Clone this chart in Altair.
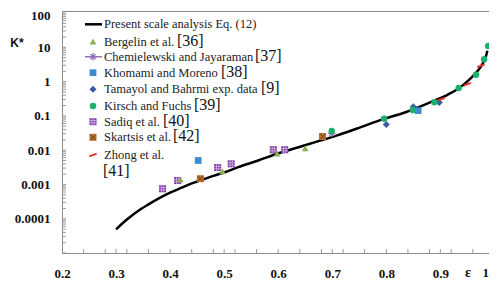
import altair as alt
import pandas as pd

# ---------------- data ----------------
curve_eps = [0.300, 0.320, 0.340, 0.360, 0.380, 0.400, 0.420, 0.440, 0.460, 0.480,
             0.500, 0.526, 0.563, 0.599, 0.636, 0.673, 0.709, 0.746, 0.797, 0.837,
             0.889, 0.914, 0.933, 0.953, 0.966, 0.978, 0.984, 0.987]
curve_k = [4.9e-5, 9.5e-5, 1.66e-4, 2.63e-4, 4.0e-4, 5.75e-4, 7.9e-4, 1.07e-3, 1.38e-3, 1.78e-3,
           2.24e-3, 3.2e-3, 5.0e-3, 8.0e-3, 0.012, 0.018, 0.027, 0.043, 0.083, 0.13,
           0.28, 0.42, 0.62, 1.13, 1.8, 3.3, 5.3, 8.0]

bergelin_eps = [0.419, 0.497, 0.598, 0.650]
bergelin_k = [1.4e-3, 2.4e-3, 8.0e-3, 0.0114]

chem_eps = [0.699]
chem_k = [0.031]

khomami_eps = [0.452, 0.859]
khomami_k = [5.0e-3, 0.142]

tamayol_eps = [0.800, 0.850, 0.898]
tamayol_k = [0.056, 0.186, 0.248]

kirsch_eps = [0.699, 0.796, 0.849, 0.889, 0.934, 0.966, 0.981, 0.9885]
kirsch_k = [0.036, 0.082, 0.148, 0.25, 0.65, 1.58, 4.5, 11.0]

sadiq_eps = [0.386, 0.414, 0.488, 0.513, 0.591, 0.612]
sadiq_k = [7.5e-4, 1.3e-3, 3.1e-3, 4.0e-3, 0.0103, 0.0103]

skartsis_eps = [0.456, 0.682]
skartsis_k = [1.47e-3, 0.025]

zhong_eps = [0.902, 0.950, 0.975]
zhong_k = [0.31, 0.84, 2.9]

x_label_values = [0.2, 0.3, 0.4, 0.5, 0.6, 0.7, 0.8, 0.9]
x_label_text = ["0.2", "0.3", "0.4", "0.5", "0.6", "0.7", "0.8", "0.9"]
x_last_label = "1"
x_minor_ticks = [0.24, 0.28, 0.3, 0.32, 0.36, 0.4, 0.44, 0.48, 0.5, 0.52, 0.56, 0.6,
                 0.64, 0.68, 0.7, 0.72, 0.76, 0.8, 0.84, 0.88, 0.9, 0.92, 0.96]
y_label_values = [0.0001, 0.001, 0.01, 0.1, 1, 10, 100]
y_label_text = ["0.0001", "0.001", "0.01", "0.1", "1", "10", "100"]
y_minor_ticks = [m * (10.0 ** e) for e in range(-5, 3) for m in range(1, 10)
                 if 1e-5 <= m * (10.0 ** e) <= 100]

legend_names = ["Present scale analysis Eq. (12)", "Bergelin et al.",
                "Chemielewski and Jayaraman", "Khomami and Moreno",
                "Tamayol and Bahrmi exp. data", "Kirsch and Fuchs",
                "Sadiq et al.", "Skartsis et al.", "Zhong et al."]
legend_refs = ["", "[36]", "[37]", "[38]", "[9]", "[39]", "[40]", "[42]", "[41]"]

# ---------------- layout / style ----------------
W, H = 427, 242
SERIF = "Times New Roman, Liberation Serif, DejaVu Serif, serif"
SANS = "Arial, Liberation Sans, sans-serif"
GRAY = "#8c8c8c"

def mapping_expr(values, labels):
    return ("[" + ",".join("'%s'" % t for t in labels) + "][indexof([" +
            ",".join(repr(v) for v in values) + "], datum.value)]")

xscale = alt.Scale(domain=[0.2, 0.99], nice=False, zero=False)
yscale = alt.Scale(type="log", domain=[1e-5, 115], nice=False)

xaxis = alt.Axis(values=x_label_values, labelExpr=mapping_expr(x_label_values, x_label_text),
                 ticks=False, tickSize=0, grid=False, title=None, domainColor=GRAY,
                 labelFont=SERIF, labelFontSize=13, labelFontWeight="bold", labelColor="#111",
                 labelPadding=14, labelFlush=False, labelOverlap=False)
yaxis = alt.Axis(values=y_label_values, labelExpr=mapping_expr(y_label_values, y_label_text),
                 ticks=False, tickSize=0, grid=False, title=None, domainColor=GRAY,
                 labelFont=SERIF, labelFontSize=13, labelFontWeight="bold", labelColor="#111",
                 labelPadding=12, labelFlush=False, labelOverlap=False,
                 labelOffset={"condition": {"test": "datum.value >= 100", "value": 2}, "value": 0})

X = alt.X("eps:Q", scale=xscale, axis=xaxis)
Y = alt.Y("k:Q", scale=yscale, axis=yaxis)

ASTER = "M-1,0H1M0,-1V1M-0.7,-0.7L0.7,0.7M-0.7,0.7L0.7,-0.7"
GRID = "M-1,-0.33H1M-1,0.33H1M-0.33,-1V1M0.33,-1V1"
XPATH = "M-0.75,-0.75L0.75,0.75M-0.75,0.75L0.75,-0.75"

styles = {
    "bergelin": [dict(shape="triangle-up", size=45, fill="#8CB050")],
    "chem": [dict(shape=ASTER, size=55, stroke="#8F72B8", sw=1.2)],
    "khomami": [dict(shape="square", size=45, fill="#3D8BD0")],
    "tamayol": [dict(shape="diamond", size=50, fill="#3B5BA5")],
    "kirsch": [dict(shape="circle", size=42, fill="#1DB06C")],
    "sadiq": [dict(shape="square", size=49, fill="#7B35A6"),
              dict(shape=GRID, size=49, stroke="#D9B9EA", sw=0.8)],
    "skartsis": [dict(shape="square", size=49, fill="#B4702F"),
                 dict(shape=XPATH, size=49, stroke="#6E3E12", sw=0.9)],
    "zhong": [dict(shape="stroke", size=60, stroke="#E8322B", sw=2, angle=340)],
}

def one():
    return alt.Chart(pd.DataFrame({"d": [0]}))

def point_layers(data, enc, key):
    out = []
    for s in styles[key]:
        if "fill" in s:
            kw = dict(shape=s["shape"], size=s["size"], filled=True, color=s["fill"],
                      opacity=1, strokeWidth=0)
        else:
            kw = dict(shape=s["shape"], size=s["size"], filled=False, color=s["stroke"],
                      opacity=1, strokeWidth=s["sw"])
            if "angle" in s:
                kw["angle"] = s["angle"]
        out.append(data.mark_point(**kw).encode(**enc))
    return out

layers = []

# inside ticks
layers.append(alt.Chart(pd.DataFrame({"eps": x_minor_ticks})).mark_rule(color="#9a9a9a", strokeWidth=1)
              .encode(x=X, y=alt.value(H - 4), y2=alt.value(H)))
layers.append(alt.Chart(pd.DataFrame({"k": y_minor_ticks})).mark_rule(color="#9a9a9a", strokeWidth=1)
              .encode(y=Y, x=alt.value(0), x2=alt.value(4)))

# curve
layers.append(alt.Chart(pd.DataFrame({"eps": curve_eps, "k": curve_k}))
              .mark_line(color="black", strokeWidth=2.5, interpolate="monotone").encode(x=X, y=Y))

series = {
    "khomami": (khomami_eps, khomami_k),
    "tamayol": (tamayol_eps, tamayol_k),
    "chem": (chem_eps, chem_k),
    "kirsch": (kirsch_eps, kirsch_k),
    "sadiq": (sadiq_eps, sadiq_k),
    "bergelin": (bergelin_eps, bergelin_k),
    "skartsis": (skartsis_eps, skartsis_k),
    "zhong": (zhong_eps, zhong_k),
}
for key, (e, k) in series.items():
    layers += point_layers(alt.Chart(pd.DataFrame({"eps": e, "k": k})), dict(x=X, y=Y), key)

# "1" label at the right edge and axis titles
layers.append(one().mark_text(
    text=x_last_label, font=SERIF, fontSize=13, fontWeight="bold", color="#111",
    align="right", baseline="top").encode(x=alt.value(W), y=alt.value(H + 14)))
layers.append(one().mark_text(text="\u03b5", font=SERIF, fontSize=14, fontWeight="bold",
                              color="#111", align="center", baseline="middle")
              .encode(x=alt.value(406), y=alt.value(262)))
layers.append(one().mark_text(text="K*", font=SANS, fontSize=12, fontWeight="bold",
                              color="#111", align="center", baseline="middle")
              .encode(x=alt.value(-45), y=alt.value(32)))

# legend (inside plot, upper left)
row_cy = [13.3, 30.7, 45.7, 61.7, 78.3, 95.0, 110.7, 126.3, 144.0]
ref_x = [0, 115, 193, 159, 199, 132, 101, 111, 41]
legend_keys = [None, "bergelin", "chem", "khomami", "tamayol", "kirsch", "sadiq", "skartsis", "zhong"]
SYM_X, TXT_X = 31, 42

for i, (name, ref, key) in enumerate(zip(legend_names, legend_refs, legend_keys)):
    cy = row_cy[i]
    if key is None:
        layers.append(one().mark_rule(color="black", strokeWidth=2.5)
                      .encode(x=alt.value(23), x2=alt.value(40), y=alt.value(cy)))
    else:
        if key == "chem":
            layers.append(one().mark_rule(color="#8F72B8", strokeWidth=1.5)
                          .encode(x=alt.value(23), x2=alt.value(40), y=alt.value(cy)))
        layers += point_layers(one(), dict(x=alt.value(SYM_X), y=alt.value(cy)), key)
    base = cy + 4
    layers.append(one().mark_text(text=name, font=SERIF, fontSize=12.5, color="#222",
                                  align="left", baseline="alphabetic")
                  .encode(x=alt.value(TXT_X), y=alt.value(base)))
    if ref:
        ry = base + (16.7 if key == "zhong" else 0)
        layers.append(one().mark_text(text=ref, font=SERIF, fontSize=16, color="#111",
                                      align="left", baseline="alphabetic")
                      .encode(x=alt.value(ref_x[i]), y=alt.value(ry)))

chart = alt.layer(*layers).properties(
    width=W, height=H,
    padding={"left": 54, "top": 3, "right": 0, "bottom": 28},
    autosize=alt.AutoSizeParams(type="none"),
).configure_view(stroke=GRAY, strokeWidth=1)

chart.save("out.html", embed_options={"renderer": "svg", "actions": False})
